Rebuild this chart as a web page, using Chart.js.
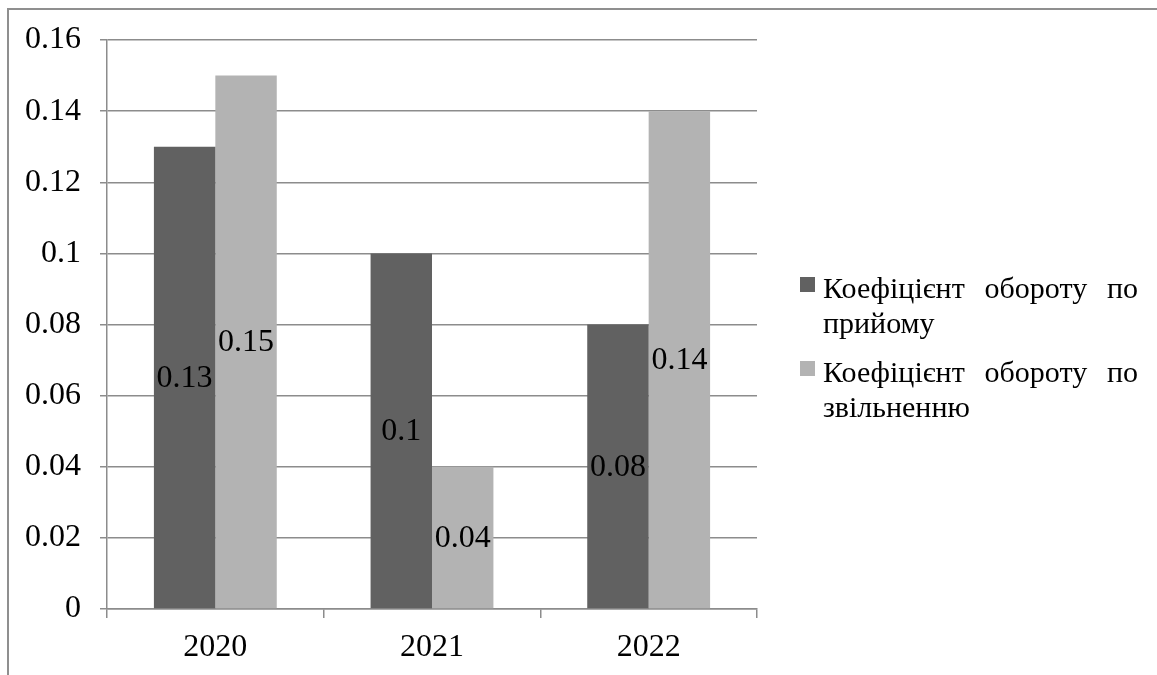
<!DOCTYPE html>
<html>
<head>
<meta charset="utf-8">
<script src="https://cdn.jsdelivr.net/npm/chart.js@4"></script>
<style>
  body { margin: 0; background: #fff; }
  #wrap { position: relative; width: 1157px; height: 675px; overflow: hidden; }
  #frame { position: absolute; left: 7px; top: 8px; right: -4px; bottom: -4px;
           border-left: 2px solid #8f8f8f; border-top: 2px solid #8f8f8f; }
  #legend { position: absolute; left: 800px; top: 270px;
            font-family: "Liberation Serif", "Times New Roman", serif; font-size: 30px; color: #000; }
  .item { position: relative; padding-left: 23px; line-height: 35px; margin-bottom: 14px; }
  .line1 { width: 315px; white-space: nowrap; text-align: justify; text-align-last: justify; }
  .sw { position: absolute; left: 0; top: 7px; width: 15px; height: 15px; }
</style>
</head>
<body>
<div id="wrap">
  <div id="frame"></div>
  <canvas id="chart" width="1157" height="675"></canvas>
  <div id="legend"></div>
</div>
<script>
// categories and series
const years = ["2020", "2021", "2022"];
const hireRate = [0.13, 0.1, 0.08];
const leaveRate = [0.15, 0.04, 0.14];

const seriesNames = ["Коефіцієнт обороту по прийому", "Коефіцієнт обороту по звільненню"];
const seriesColors = ["#616161", "#b3b3b3"];

const FONT = "Liberation Serif";
const GRID = "#8c8c8c";

// value labels in the middle of each bar
const barLabels = {
    id: "barLabels",
    afterDatasetsDraw(chart) {
        const ctx = chart.ctx;
        ctx.save();
        ctx.font = "32px '" + FONT + "'";
        ctx.fillStyle = "#000";
        ctx.textAlign = "center";
        ctx.textBaseline = "middle";
        chart.data.datasets.forEach((ds, i) => {
            chart.getDatasetMeta(i).data.forEach((bar, j) => {
                ctx.fillText(String(ds.data[j]), bar.x, (bar.y + bar.base) / 2 + 1);
            });
        });
        ctx.restore();
    }
};

new Chart(document.getElementById("chart"), {
    type: "bar",
    data: {
        labels: years,
        datasets: [
            { label: seriesNames[0], data: hireRate,  backgroundColor: seriesColors[0] },
            { label: seriesNames[1], data: leaveRate, backgroundColor: seriesColors[1] },
        ]
    },
    options: {
        responsive: false,
        animation: false,
        categoryPercentage: 0.567,
        barPercentage: 1,
        layout: { padding: { top: 40, right: 400, left: 0, bottom: 0 } },
        plugins: { legend: { display: false }, tooltip: { enabled: false } },
        scales: {
            x: {
                grid: { drawOnChartArea: false, drawTicks: true, tickLength: 9, color: GRID, lineWidth: 1.5, offset: true },
                border: { display: true, color: GRID, width: 1.5 },
                ticks: { color: "#000", font: { family: FONT, size: 32 }, padding: 10 },
                afterFit(scale) { scale.height = 66; }
            },
            y: {
                min: 0,
                max: 0.16,
                grid: { color: GRID, lineWidth: 1.5, tickLength: 7 },
                border: { display: true, color: GRID, width: 1.5 },
                ticks: {
                    stepSize: 0.02,
                    color: "#000",
                    font: { family: FONT, size: 32 },
                    padding: 19,
                    callback: v => String(Math.round(v * 100) / 100)
                },
                afterFit(scale) { scale.width = 107; }
            }
        }
    },
    plugins: [barLabels]
});

// html legend: the long names wrap after the third word, as in the picture
const legend = document.getElementById("legend");
seriesNames.forEach((name, i) => {
    const words = name.split(" ");
    const item = document.createElement("div");
    item.className = "item";
    item.innerHTML = '<span class="sw" style="background:' + seriesColors[i] + '"></span>' +
        '<div class="line1">' + words.slice(0, 3).join(" ") + '</div>' +
        '<div>' + words.slice(3).join(" ") + '</div>';
    legend.appendChild(item);
});
</script>
</body>
</html>
